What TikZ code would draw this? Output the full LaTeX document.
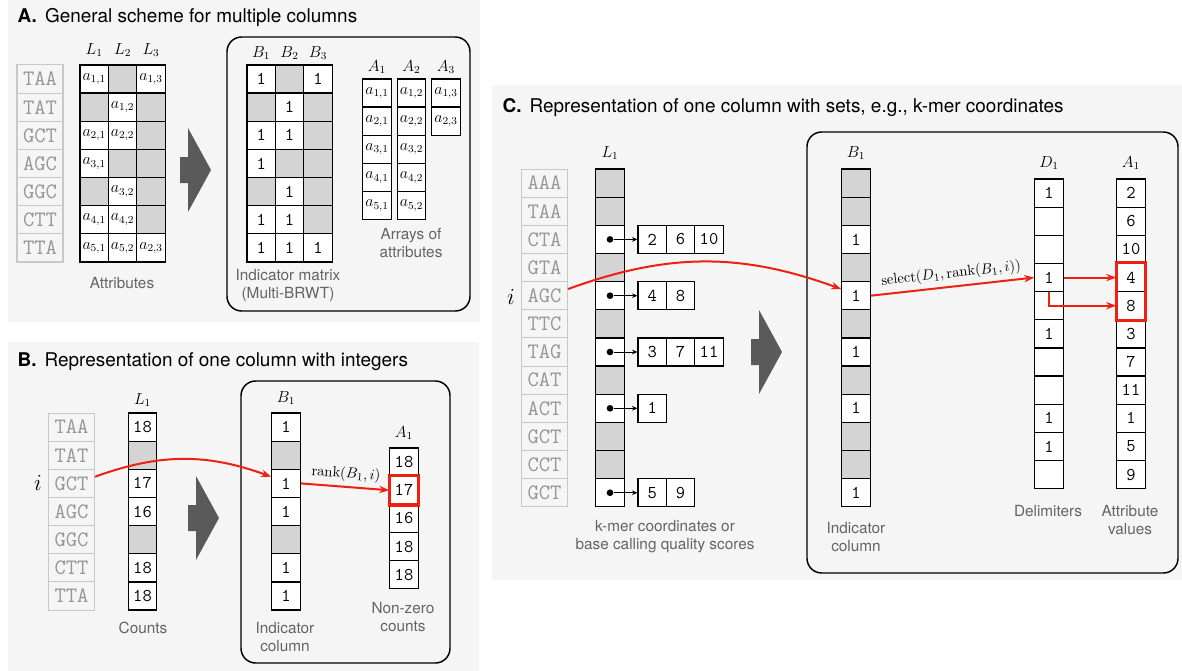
\documentclass[tikz,border=0pt]{standalone}
\usepackage{amsmath}
\usepackage[no-math]{fontspec}
\setmainfont{TeX Gyre Heros}
\usepackage{xcolor}
\usetikzlibrary{arrows.meta,positioning}
\definecolor{panelbg}{RGB}{245,245,245}
\definecolor{cellgray}{RGB}{212,212,212}
\definecolor{kmergray}{RGB}{200,200,200}
\definecolor{kmertext}{RGB}{150,150,150}
\definecolor{labelgray}{RGB}{100,100,100}
\definecolor{shapegray}{RGB}{90,90,90}
\definecolor{mapred}{RGB}{238,32,18}

\tikzset{
  cell/.style={draw, line width=0.9pt, fill=white, minimum width=21.3pt, minimum height=21.1pt, inner sep=0pt, font=\fontsize{13.5}{13.5}\ttfamily},
  mathcell/.style={cell, font=\fontsize{12}{12}\selectfont},
  kmer/.style={draw=kmergray, line width=0.8pt, minimum width=34.5pt, minimum height=21.1pt, inner sep=0pt, text=kmertext, font=\fontsize{16.5}{16.5}\ttfamily},
  head/.style={font=\fontsize{12}{12}\selectfont},
  caption/.style={text=labelgray, align=center, font=\fontsize{11.5}{13.5}\selectfont},
  title/.style={anchor=west, font=\fontsize{14.2}{16}\selectfont},
  panel/.style={fill=panelbg},
  frame/.style={draw, line width=1.1pt, rounded corners=11pt},
  bigarrow/.style={fill=shapegray},
  maparrow/.style={draw=mapred, line width=1.5pt, -{Stealth[length=7.5pt,width=5.5pt]}},
  hilite/.style={draw=mapred, line width=2.4pt},
  ptr/.style={-{Stealth[length=4pt,width=3.5pt]}, line width=0.7pt},
  dot/.style={circle, fill, inner sep=0pt, minimum size=5pt},
  index/.style={font=\fontsize{16}{16}\selectfont}
}

\begin{document}
\begin{tikzpicture}[x=0.75pt,y=-0.75pt]
\useasboundingbox (0,0) rectangle (1182,671);

% Panel backgrounds
\fill[panel] (8,0) rectangle (480,322);
\fill[panel] (8,342) rectangle (479,671);
\fill[panel] (492,85) rectangle (1182,580);

\node[title] (titleA) at (13,17) {\textbf{A.}\hspace{6pt}General scheme for multiple columns};
\node[title] (titleB) at (13,362) {\textbf{B.}\hspace{6pt}Representation of one column with integers};
\node[title] (titleC) at (498,108) {\textbf{C.}\hspace{6pt}Representation of one column with sets, e.g., k-mer coordinates};

% Big arrows
\foreach \ax/\ay in {188/170,196/518,759/352}
  \fill[bigarrow] (\ax-8,\ay-13) -- (\ax,\ay-13) -- (\ax,\ay-42) -- (\ax+23,\ay) -- (\ax,\ay+42) -- (\ax,\ay+13) -- (\ax-8,\ay+13) -- cycle;

%%% A: general scheme
\foreach \t [count=\r] in {TAA,TAT,GCT,AGC,GGC,CTT,TTA}
  \node[kmer] (aK\r) at (40,{79+28.15*(\r-1)}) {\t};

\foreach \r/\c/\f/\t in {1/1/white/$a_{1,1}$, 1/2/cellgray/, 1/3/white/$a_{1,3}$,
    2/1/cellgray/, 2/2/white/$a_{1,2}$, 2/3/cellgray/,
    3/1/white/$a_{2,1}$, 3/2/white/$a_{2,2}$, 3/3/cellgray/,
    4/1/white/$a_{3,1}$, 4/2/cellgray/, 4/3/cellgray/,
    5/1/cellgray/, 5/2/white/$a_{3,2}$, 5/3/cellgray/,
    6/1/white/$a_{4,1}$, 6/2/white/$a_{4,2}$, 6/3/cellgray/,
    7/1/white/$a_{5,1}$, 7/2/white/$a_{5,2}$, 7/3/white/$a_{2,3}$}
  \node[mathcell, fill=\f] (aL\r\c) at ({94.2+28.4*(\c-1)},{79+28.15*(\r-1)}) {\t};

\draw[frame] (227,37) rectangle (470,311);

\foreach \r/\c/\f/\t in {1/1/white/1, 1/2/cellgray/, 1/3/white/1,
    2/1/cellgray/, 2/2/white/1, 2/3/cellgray/,
    3/1/white/1, 3/2/white/1, 3/3/cellgray/,
    4/1/white/1, 4/2/cellgray/, 4/3/cellgray/,
    5/1/cellgray/, 5/2/white/1, 5/3/cellgray/,
    6/1/white/1, 6/2/white/1, 6/3/cellgray/,
    7/1/white/1, 7/2/white/1, 7/3/white/1}
  \node[cell, fill=\f] (aB\r\c) at ({261.2+28.4*(\c-1)},{79+28.15*(\r-1)}) {\t};

\foreach \c/\n in {1/5,2/5,3/2}
  \foreach \r in {1,...,\n}
    \node[mathcell] (aA\c\r) at ({377+34.5*(\c-1)},{93+28.15*(\r-1)}) {$a_{\r,\c}$};

\foreach \c in {1,2,3} {
  \node[head] (aLh\c) at ({94.2+28.4*(\c-1)},50) {$L_{\c}$};
  \node[head] (aBh\c) at ({261.2+28.4*(\c-1)},53) {$B_{\c}$};
  \node[head] (aAh\c) at ({377+34.5*(\c-1)},67) {$A_{\c}$};
}

\node[caption] (aCap1) at (122,283) {Attributes};
\node[caption] (aCap2) at (288,286) {Indicator matrix\\(Multi-BRWT)};
\node[caption] (aCap3) at (411,243) {Arrays of\\attributes};

%%% B: one column with integers
\foreach \t [count=\r] in {TAA,TAT,GCT,AGC,GGC,CTT,TTA}
  \node[kmer] (bK\r) at (71.5,{427.1+28.15*(\r-1)}) {\t};
\node[index] (bI) at (38,483) {$i$};

\foreach \r/\f/\t in {1/white/18,2/cellgray/,3/white/17,4/white/16,5/cellgray/,6/white/18,7/white/18}
  \node[cell, fill=\f] (bL\r) at (142.5,{427.1+28.15*(\r-1)}) {\t};

\draw[frame] (241,381) rectangle (450,663);

\foreach \r/\f/\t in {1/white/1,2/cellgray/,3/white/1,4/white/1,5/cellgray/,6/white/1,7/white/1}
  \node[cell, fill=\f] (bB\r) at (286,{427.1+28.15*(\r-1)}) {\t};
\foreach \t [count=\r] in {18,17,16,18,18}
  \node[cell] (bA\r) at (404,{462.1+28.15*(\r-1)}) {\t};

\node[head] (bLh) at (142.5,400) {$L_1$};
\node[head] (bBh) at (286,398) {$B_1$};
\node[head] (bAh) at (404,433) {$A_1$};

\node[caption] (bCap1) at (143,628) {Counts};
\node[caption] (bCap2) at (285,637) {Indicator\\column};
\node[caption] (bCap3) at (403,617) {Non-zero\\counts};

\draw[hilite] (bA2.north west) rectangle (bA2.south east);
\draw[maparrow] ([yshift=5pt]bK3.east) to[out=20,in=160] ([yshift=5pt]bB3.west);
\draw[maparrow] (bB3.east) -- node[above, sloped, font=\fontsize{11}{11}\selectfont] (bRank) {$\operatorname{rank}(B_1,i)$} (bA2.west);

%%% C: one column with sets
\foreach \t [count=\r] in {AAA,TAA,CTA,GTA,AGC,TTC,TAG,CAT,ACT,GCT,CCT,GCT}
  \node[kmer] (cK\r) at (544.5,{183.1+28.15*(\r-1)}) {\t};
\node[index] (cI) at (511,297) {$i$};

\foreach \r/\f in {1/cellgray,2/cellgray,3/white,4/cellgray,5/white,6/cellgray,7/white,8/cellgray,9/white,10/cellgray,11/cellgray,12/white}
  \node[cell, fill=\f] (cL\r) at (610,{183.1+28.15*(\r-1)}) {};

\foreach \r/\k/\v in {3/1/2,3/2/6,3/3/10,5/1/4,5/2/8,7/1/3,7/2/7,7/3/11,9/1/1,12/1/5,12/2/9}
  \node[cell] (cS\r-\k) at ({652.2+28.4*(\k-1)},{183.1+28.15*(\r-1)}) {\v};

\foreach \r in {3,5,7,9,12} {
  \node[dot] (cP\r) at (cL\r) {};
  \draw[ptr] (cP\r) -- (cS\r-1);
}

\draw[frame] (807,132) rectangle (1178,573);

\foreach \r/\f/\t in {1/cellgray/,2/cellgray/,3/white/1,4/cellgray/,5/white/1,6/cellgray/,7/white/1,8/cellgray/,9/white/1,10/cellgray/,11/cellgray/,12/white/1}
  \node[cell, fill=\f] (cB\r) at (856,{183.1+28.15*(\r-1)}) {\t};
\foreach \r/\t in {1/1,2/,3/,4/1,5/,6/1,7/,8/,9/1,10/1,11/}
  \node[cell] (cD\r) at (1049,{193.1+28.15*(\r-1)}) {\t};
\foreach \t [count=\r] in {2,6,10,4,8,3,7,11,1,5,9}
  \node[cell] (cA\r) at (1131,{193.1+28.15*(\r-1)}) {\t};

\node[head] (cLh) at (610,153) {$L_1$};
\node[head] (cBh) at (856,153) {$B_1$};
\node[head] (cDh) at (1049,163) {$D_1$};
\node[head] (cAh) at (1131,163) {$A_1$};

\node[caption] (cCap1) at (665,537) {k-mer coordinates or\\base calling quality scores};
\node[caption] (cCap2) at (856,537) {Indicator\\column};
\node[caption] (cCap3) at (1048,511) {Delimiters};
\node[caption] (cCap4) at (1130,520) {Attribute\\values};

\draw[hilite] (cA4.north west) rectangle (cA5.south east);
\draw[maparrow] ([yshift=5pt]cK5.east) to[out=20,in=160] ([yshift=5pt]cB5.west);
\draw[maparrow] (cB5.east) -- node[above, sloped, font=\fontsize{11}{11}\selectfont] (cSelect) {$\operatorname{select}(D_1,\operatorname{rank}(B_1,i))$} (cD4.west);
\draw[maparrow] (cD4.south) |- (cA5.west);
\draw[maparrow] (cD4.east) -- (cA4.west);
\end{tikzpicture}
\end{document}
